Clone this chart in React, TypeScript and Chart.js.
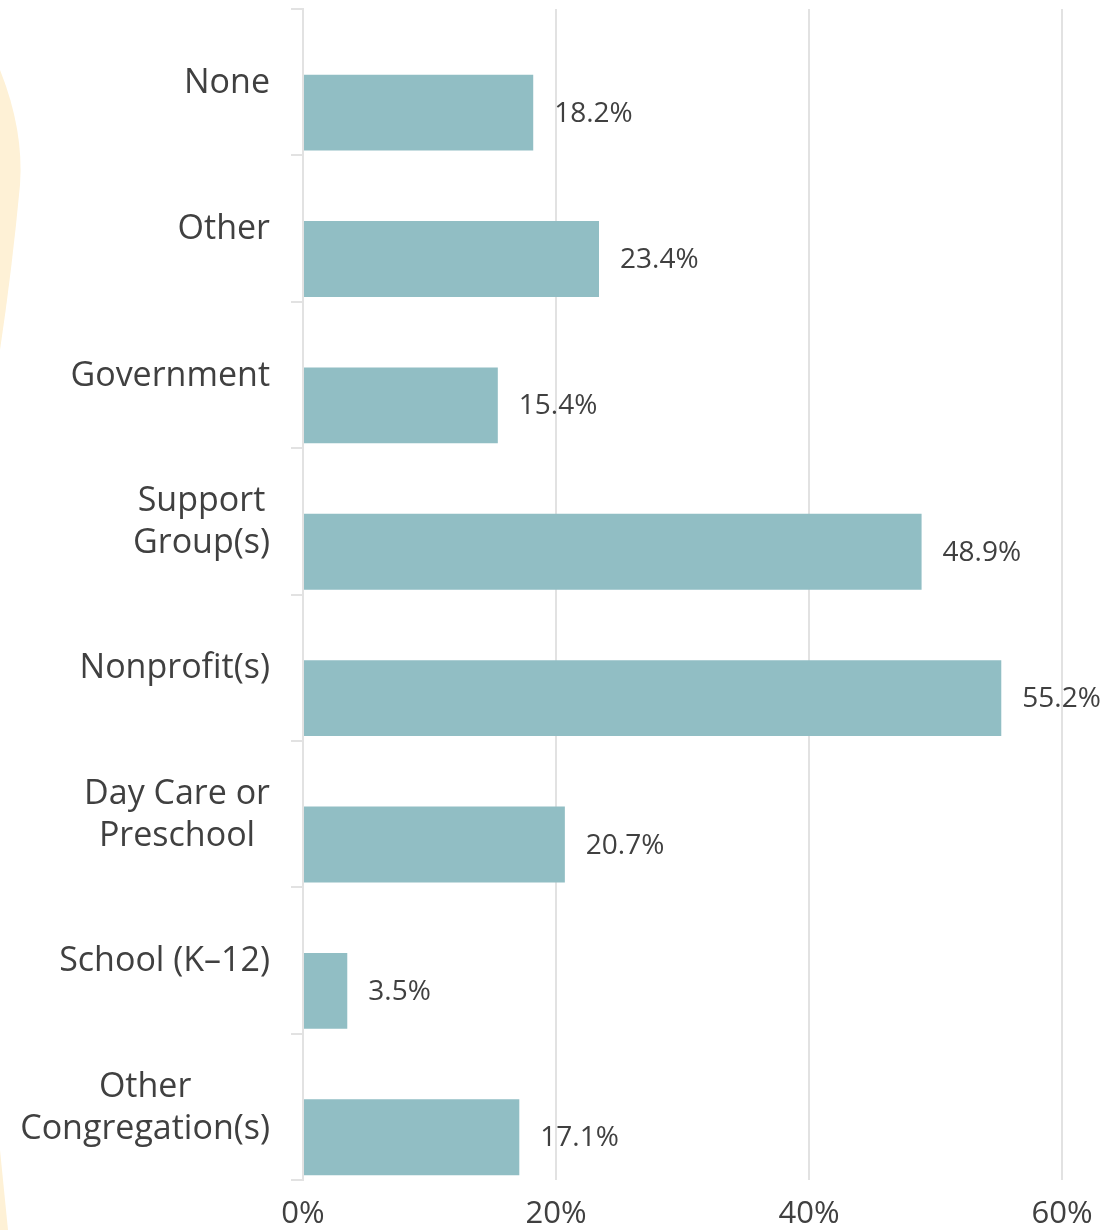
import React, { useEffect, useRef } from "react";
import { Chart, registerables } from "chart.js";

Chart.register(...registerables);

const categories: string[][] = [
  ["None"],
  ["Other"],
  ["Government"],
  ["Support", "Group(s)"],
  ["Nonprofit(s)"],
  ["Day Care or", "Preschool"],
  ["School (K–12)"],
  ["Other", "Congregation(s)"],
];
const values: number[] = [18.2, 23.4, 15.4, 48.9, 55.2, 20.7, 3.5, 17.1];
const spacerValues: (number | null)[] = values.map(() => null);
const xTicks: number[] = [0, 20, 40, 60];

const FONT = "'Open Sans', 'Noto Sans', sans-serif";
const TEXT = "#404040";
const GRID = "#e2e2e2";
const BAR = "#91BEC4";

const decorPlugin = {
  id: "decor",
  beforeDraw(chart: any) {
    const ctx = chart.ctx;
    ctx.save();
    ctx.fillStyle = "#FEF1D6";
    ctx.beginPath();
    ctx.moveTo(0, 70);
    ctx.quadraticCurveTo(24, 130, 20, 185);
    ctx.quadraticCurveTo(12, 270, 0, 350);
    ctx.closePath();
    ctx.fill();
    ctx.beginPath();
    ctx.moveTo(0, 1150);
    ctx.lineTo(8, 1230);
    ctx.lineTo(0, 1230);
    ctx.closePath();
    ctx.fill();
    ctx.restore();
  },
};

const labelsPlugin = {
  id: "customLabels",
  afterDraw(chart: any) {
    const ctx = chart.ctx;
    const yScale = chart.scales.y;
    ctx.save();
    ctx.fillStyle = TEXT;
    // category labels: block right-aligned, lines centered
    ctx.font = `34px ${FONT}`;
    ctx.textBaseline = "middle";
    ctx.textAlign = "center";
    const rightEdge = yScale.right - 33;
    const lh = 42;
    categories.forEach((lines, i) => {
      const cy = yScale.getPixelForValue(i) + 1;
      const maxW = Math.max(...lines.map((l) => ctx.measureText(l).width));
      const cx = rightEdge - maxW / 2;
      const startY = cy - ((lines.length - 1) * lh) / 2;
      lines.forEach((l, j) => ctx.fillText(l, cx, startY + j * lh));
    });
    // value labels
    ctx.font = `28px ${FONT}`;
    ctx.textAlign = "left";
    const meta = chart.getDatasetMeta(1);
    meta.data.forEach((bar: any, i: number) => {
      ctx.fillText(values[i].toFixed(1) + "%", bar.x + 21, bar.y + 1);
    });
    ctx.restore();
  },
};

export default function App() {
  const ref = useRef<HTMLCanvasElement | null>(null);
  useEffect(() => {
    document.body.style.margin = "0";
    const canvas = ref.current;
    if (!canvas) return;
    const chart = new Chart(canvas, {
      type: "bar",
      data: {
        labels: categories.map((c) => c.join(" ")),
        datasets: [
          {
            data: spacerValues as any,
            backgroundColor: "rgba(0,0,0,0)",
          },
          {
            data: values,
            backgroundColor: BAR,
          },
        ],
      },
      options: {
        indexAxis: "y",
        animation: false,
        responsive: false,
        maintainAspectRatio: false,
        datasets: {
          bar: {
            categoryPercentage: 0.833,
            barPercentage: 1.245,
          },
        },
        layout: { padding: { top: 9, right: 47, left: 0, bottom: 0 } },
        plugins: {
          legend: { display: false },
          tooltip: { enabled: false },
        },
        scales: {
          x: {
            min: 0,
            max: 60,
            afterBuildTicks: (scale: any) => {
              scale.ticks = xTicks.map((v) => ({ value: v }));
            },
            afterFit: (scale: any) => {
              scale.height = 50;
            },
            grid: {
              color: GRID,
              lineWidth: 2,
              drawTicks: false,
            },
            border: { display: false },
            ticks: {
              padding: 16,
              color: TEXT,
              font: { family: FONT, size: 31 },
              callback: (v: any) => `${v}%`,
            },
          },
          y: {
            afterFit: (scale: any) => {
              scale.width = 303;
            },
            grid: {
              drawOnChartArea: false,
              drawTicks: true,
              tickLength: 12,
              color: GRID,
              lineWidth: 2,
              offset: true,
            },
            border: { display: true, color: GRID, width: 2 },
            ticks: { display: false },
          },
        },
      },
      plugins: [decorPlugin, labelsPlugin],
    });
    return () => chart.destroy();
  }, []);
  return (
    <div style={{ width: 1109, height: 1230, position: "relative" }}>
      <canvas ref={ref} width={1109} height={1230} style={{ display: "block" }} />
    </div>
  );
}
